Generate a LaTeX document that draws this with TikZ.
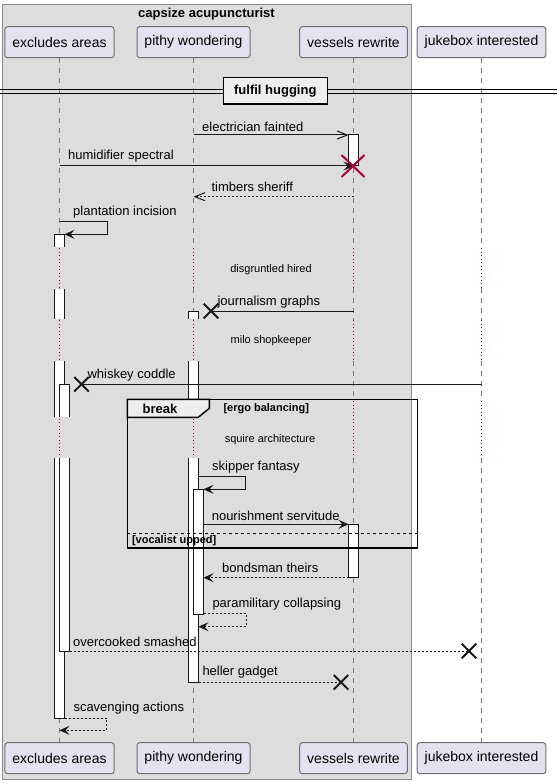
\documentclass[tikz,border=0pt]{standalone}
\usepackage{fontspec}
\setmainfont{Liberation Sans}
\usetikzlibrary{arrows.meta,shapes.misc}

\tikzset{every picture/.style={line width=0.75pt}}
\tikzset{
  grp/.style={draw={rgb, 255:red, 136; green, 136; blue, 136}, fill={rgb, 255:red, 221; green, 221; blue, 221}},
  gtitle/.style={inner sep=0pt, font=\fontsize{9.75}{11}\selectfont\bfseries},
  part/.style={draw={rgb, 255:red, 110; green, 110; blue, 110}, fill={rgb, 255:red, 226; green, 226; blue, 240}, rounded corners=1.9pt, minimum height=23.25pt, inner xsep=5.6pt, inner ysep=0pt, font=\fontsize{10.5}{12}\selectfont},
  life/.style={draw={rgb, 255:red, 120; green, 120; blue, 120}, line width=0.6pt, dash pattern=on 3.75pt off 3.75pt},
  delay/.style={draw={rgb, 255:red, 168; green, 0; blue, 54}, line width=0.75pt, dash pattern=on 0.75pt off 1.9pt},
  act/.style={draw={rgb, 255:red, 24; green, 24; blue, 24}, fill=white},
  msg/.style={draw={rgb, 255:red, 24; green, 24; blue, 24}},
  ret/.style={msg, dash pattern=on 1.5pt off 1.5pt},
  full/.style={-{Stealth[length=7.5pt, width=6.75pt, inset=3pt]}},
  barb/.style={-{Straight Barb[length=7.5pt, width=6pt]}},
  lbl/.style={anchor=west, inner sep=0pt, font=\fontsize{9.75}{11}\selectfont},
  dly/.style={inner sep=0pt, font=\fontsize{8.25}{10}\selectfont},
  lost/.style={draw={rgb, 255:red, 24; green, 24; blue, 24}, cross out, line width=1.5pt, minimum size=9.4pt, inner sep=0pt},
  kill/.style={draw={rgb, 255:red, 168; green, 0; blue, 54}, cross out, line width=1.5pt, minimum width=15.75pt, minimum height=15pt, inner sep=0pt},
  frm/.style={draw=black, line width=1.125pt},
  tab/.style={draw=black, line width=1.125pt, fill={rgb, 255:red, 238; green, 238; blue, 238}},
  guard/.style={anchor=west, inner sep=0pt, font=\fontsize{8.25}{10}\selectfont\bfseries},
}

\begin{document}
\begin{tikzpicture}[x=0.75pt,y=0.75pt,yscale=-1]
	\useasboundingbox (0,0) rectangle (557,784);

	%Box: capsize acupuncturist
	\draw[grp] (2,5) rectangle (411,779.3);
	\node[gtitle] (gt) at (206.5,14) {capsize acupuncturist};

	%Participants, top and bottom
	\node[part] (ea) at (59.5,42.2) {excludes areas};
	\node[part] (pw) at (193.5,42.2) {pithy wondering};
	\node[part] (vr) at (353.5,42.2) {vessels rewrite};
	\node[part] (ji) at (481.5,42.2) {jukebox interested};
	\node[part] (ea2) at (59.5,758.2) {excludes areas};
	\node[part] (pw2) at (193.5,758.2) {pithy wondering};
	\node[part] (vr2) at (353.5,758.2) {vessels rewrite};
	\node[part] (ji2) at (481.5,758.2) {jukebox interested};

	%Lifelines, dotted where the delays are
	\foreach \p in {ea,pw,vr,ji}{
		\draw[life] (\p) -- (\p |- 0,248) (\p |- 0,288) -- (\p |- 0,320) (\p |- 0,361) -- (\p |- 0,401) (\p |- 0,458) -- (\p2);
		\draw[delay] (\p |- 0,248) -- (\p |- 0,288) (\p |- 0,320) -- (\p |- 0,361) (\p |- 0,401) -- (\p |- 0,458);
	}

	%Separator: fulfil hugging
	\draw (0,90) -- (557,90) (0,94) -- (557,94);
	\node[tab, minimum width=78pt, minimum height=20pt, inner sep=0pt, font=\fontsize{9.75}{11}\selectfont\bfseries] (sep) at (275.3,90.7) {fulfil hugging};

	%Delays
	\node[dly] (d1) at (271,269.3) {disgruntled hired};
	\node[dly] (d2) at (271,341) {milo shopkeeper};
	\node[dly] (d3) at (270,439.3) {squire architecture};

	%Activations: excludes areas
	\filldraw[act] (54.5,247.3) |- (64.5,234.3) -- (64.5,247.3);
	\fill[white] (54.5,289.3) rectangle (64.5,319.3);
	\draw[act] (54.5,289.3) -- (54.5,319.3) (64.5,289.3) -- (64.5,319.3);
	\fill[white] (54.5,361) rectangle (64.5,417.3);
	\draw[act] (54.5,361) -- (54.5,417.3) (64.5,361) -- (64.5,417.3);
	\filldraw[act] (54.5,458.3) |- (64.5,718.3) -- (64.5,458.3);
	\filldraw[act] (59.5,417.3) |- (69.5,384.3) -- (69.5,417.3);
	\filldraw[act] (59.5,458.3) |- (69.5,651) -- (69.5,458.3);
	%Activations: pithy wondering
	\filldraw[act] (188.5,319.3) |- (198.5,311) -- (198.5,319.3);
	\fill[white] (188.5,361) rectangle (198.5,399.3);
	\draw[act] (188.5,361) -- (188.5,399.3) (198.5,361) -- (198.5,399.3);
	\filldraw[act] (188.5,458.3) |- (198.5,682.3) -- (198.5,458.3);
	\filldraw[act] (193.5,489.3) rectangle (203.5,614);
	%Activations: vessels rewrite
	\filldraw[act] (348.5,135) rectangle (358.5,166);
	\filldraw[act] (348.5,524.3) rectangle (358.5,577.7);

	%Frame: break
	\draw[frm] (127.3,399.3) rectangle (417.7,548);
	\filldraw[tab] (127.3,399.3) -- (209.3,399.3) -- (209.3,408.3) -- (198.3,417.3) -- (127.3,417.3) -- cycle;
	\node[inner sep=0pt, font=\fontsize{9.75}{11}\selectfont\bfseries] (brk) at (160,409) {break};
	\node[guard] (g1) at (223,409) {[ergo balancing]};
	\draw[dash pattern=on 2.25pt off 2.25pt] (127.3,533) -- (417.7,533);
	\node[guard] (g2) at (131.5,540.5) {[vocalist upped]};

	%Messages
	\coordinate (m1s) at (193.5,135); \coordinate (m1e) at (348.5,135);
	\draw[msg,barb] (m1s) -- (m1e);
	\node[lbl] (l1) at (201.7,127) {electrician fainted};

	\coordinate (m2s) at (59.5,166); \coordinate (m2e) at (353.5,166);
	\draw[msg,full] (m2s) -- (m2e);
	\node[kill] (k1) at (353,166) {};
	\node[lbl] (l2) at (67.7,155.7) {humidifier spectral};

	\coordinate (m3s) at (353.5,196.7); \coordinate (m3e) at (193.5,196.7);
	\draw[ret,barb] (m3s) -- (m3e);
	\node[lbl] (l3) at (211,187.3) {timbers sheriff};

	\coordinate (m4s) at (59.5,221.7); \coordinate (m4e) at (64.5,234.3);
	\draw[msg,full] (m4s) -- (107,221.7) -- (107,234.3) -- (m4e);
	\node[lbl] (l4) at (72.7,211.7) {plantation incision};

	\node[lost] (x1) at (211,311) {};
	\coordinate (m5s) at (353.5,311);
	\draw[msg] (m5s) -- (x1.center);
	\node[lbl] (l5) at (217,302.3) {journalism graphs};

	\node[lost] (x2) at (81.5,384.3) {};
	\coordinate (m6s) at (481.5,384.3);
	\draw[msg] (m6s) -- (x2.center);
	\node[lbl] (l6) at (87,375) {whiskey coddle};

	\coordinate (m7s) at (198.5,476.7); \coordinate (m7e) at (203.5,489.3);
	\draw[msg,full] (m7s) -- (245.7,476.7) -- (245.7,489.3) -- (m7e);
	\node[lbl] (l7) at (211.7,467.3) {skipper fantasy};

	\coordinate (m8s) at (203.5,524.3); \coordinate (m8e) at (348.5,524.3);
	\draw[msg,full] (m8s) -- (m8e);
	\node[lbl] (l8) at (211.3,515.7) {nourishment servitude};

	\coordinate (m9s) at (348.5,577.7); \coordinate (m9e) at (203.5,577.7);
	\draw[ret,full] (m9s) -- (m9e);
	\node[lbl] (l9) at (221.7,568.3) {bondsman theirs};

	\coordinate (m10s) at (203.5,613.3); \coordinate (m10e) at (198.5,626.7);
	\draw[ret,full] (m10s) -- (246,613.3) -- (246,626.7) -- (m10e);
	\node[lbl] (l10) at (212,604.3) {paramilitary collapsing};

	\node[lost] (x3) at (469,651) {};
	\coordinate (m11s) at (69.5,651);
	\draw[ret] (m11s) -- (x3.center);
	\node[lbl] (l11) at (72.6,642.3) {overcooked smashed};

	\node[lost] (x4) at (341,682.3) {};
	\coordinate (m12s) at (198.5,682.3);
	\draw[ret] (m12s) -- (x4.center);
	\node[lbl] (l12) at (202,672.3) {heller gadget};

	\coordinate (m13s) at (64.5,718.3); \coordinate (m13e) at (59.5,730.3);
	\draw[ret,full] (m13s) -- (106.8,718.3) -- (106.8,730.3) -- (m13e);
	\node[lbl] (l13) at (73,708.3) {scavenging actions};

\end{tikzpicture}
\end{document}
